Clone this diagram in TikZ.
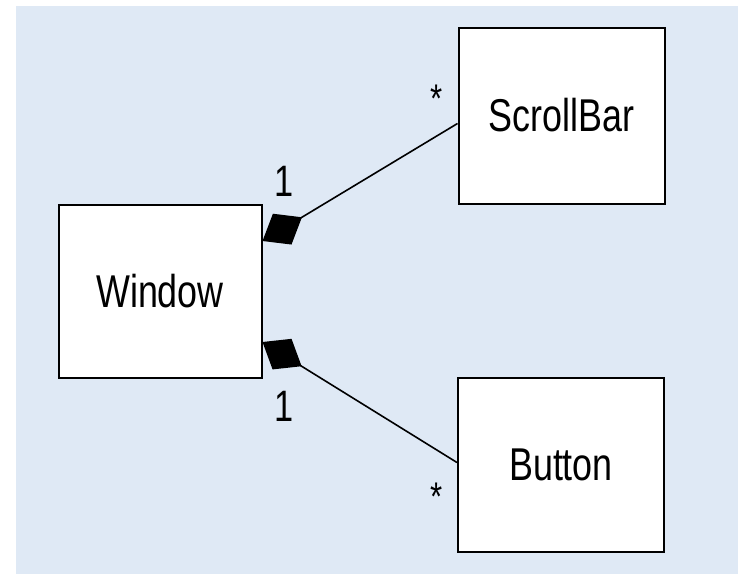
\documentclass[tikz,border=0pt]{standalone}
\usepackage{fontspec}
\usetikzlibrary{arrows.meta}
\newfontfamily\diagfont{Liberation Sans}[FakeStretch=0.78]
\definecolor{panelblue}{HTML}{DFE9F5}
\tikzset{
  classbox/.style={draw=black, line width=2pt, fill=white, inner sep=0pt,
    minimum width=206pt, minimum height=176pt,
    font=\diagfont\fontsize{46}{50}\selectfont},
  composition/.style={line width=1.6pt, {Diamond[length=46pt,width=36pt]}-},
  multlabel/.style={inner sep=0pt, font=\diagfont\fontsize{44}{48}\selectfont},
  starlabel/.style={inner sep=0pt, anchor=base, font=\diagfont\fontsize{40}{44}\selectfont}
}
\begin{document}
\begin{tikzpicture}[x=1pt, y=-1pt]
  \useasboundingbox (0,0) rectangle (738,574);
  \fill[panelblue] (16,6) rectangle (738,574);

  % classes
  \node[classbox, minimum width=203pt, minimum height=173pt] (window) at (160,291) {Window};
  \node[classbox] (scrollbar) at (561.5,115.5) {ScrollBar};
  \node[classbox, minimum height=174pt] (button) at (561,464.5) {Button};

  % composition associations
  \draw[composition] ([yshift=50pt]window.east) -- ([yshift=-8pt]scrollbar.west);
  \draw[composition] ([yshift=-51pt]window.east) -- ([yshift=2pt]button.west);

  % multiplicities
  \node[multlabel] (m1) at (284,181) {1};
  \node[multlabel] (m2) at (284,406) {1};
  \node[starlabel] (s1) at (437,112) {*};
  \node[starlabel] (s2) at (437,510) {*};
\end{tikzpicture}
\end{document}
